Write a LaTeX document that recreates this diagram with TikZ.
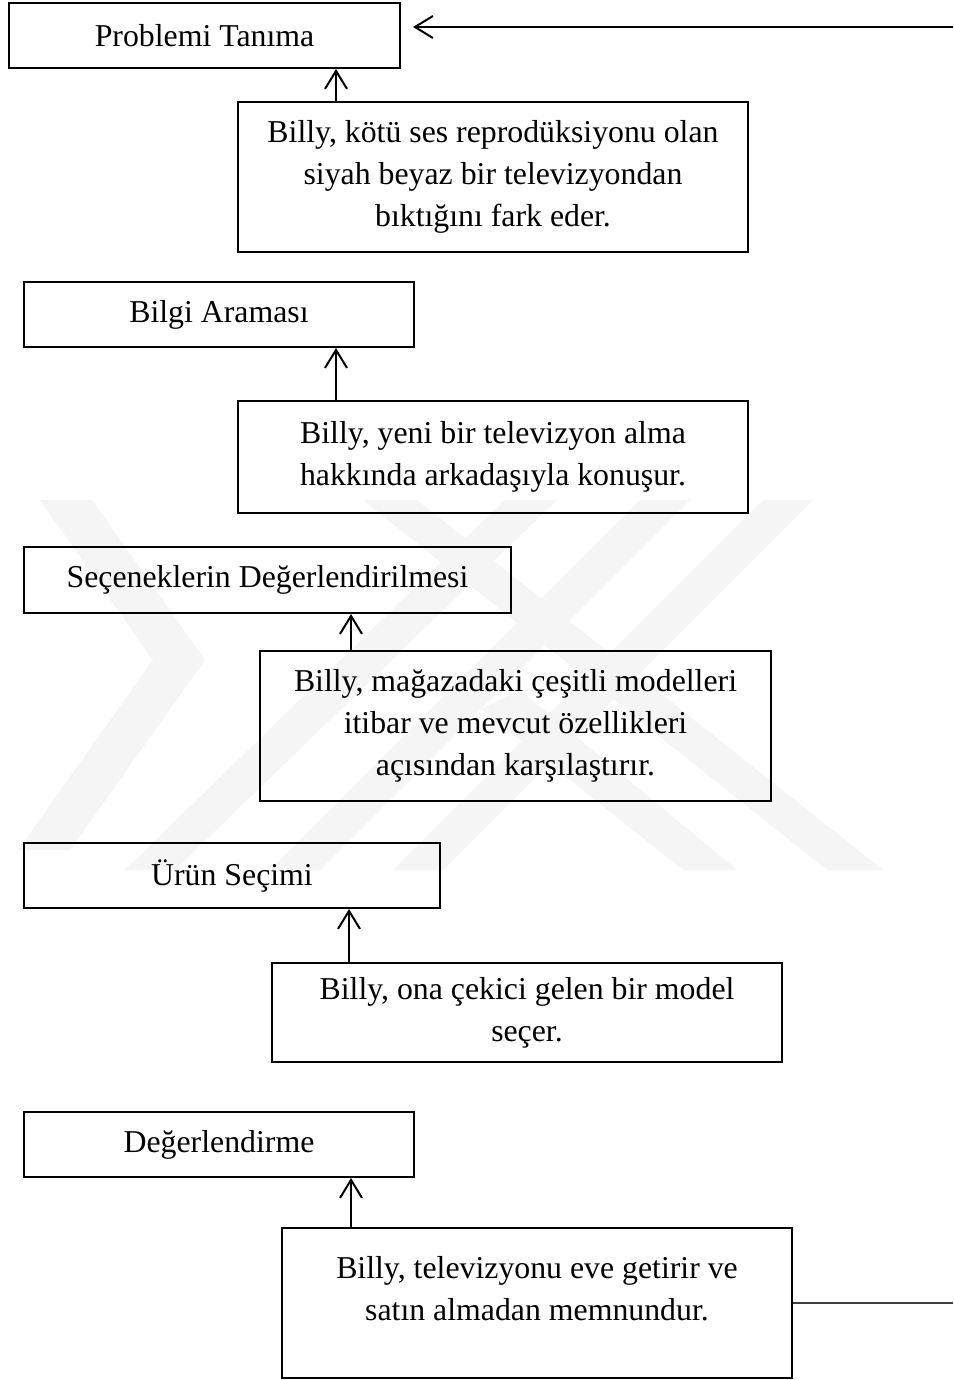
\documentclass[tikz,border=0pt]{standalone}
\usepackage{fontspec}
\setmainfont{Liberation Serif}
\usetikzlibrary{arrows.meta,calc}
\begin{document}
\begin{tikzpicture}[x=1pt,y=-1pt,
  txt/.style={font=\fontsize{31.8}{42}\selectfont, align=center},
  stage/.style={txt, draw, line width=2pt, inner sep=0pt, minimum height=65pt},
  note/.style={txt, draw, line width=2pt, inner sep=0pt, minimum width=510pt},
  arr/.style={line width=2pt, -{Straight Barb[length=18pt,width=22pt,line width=2pt]}},
  back/.style={line width=1.5pt, black!75},
  wm/.style={fill=black!4, draw=none}]
\useasboundingbox (0,0) rectangle (953,1380);

% faint background emblem
\fill[wm] (40,500) -- (92,500) -- (205,660) -- (70,850) -- (18,850) -- (153,660) -- cycle;
\fill[wm] (125,870) -- (175,870) -- (557,500) -- (505,500) -- cycle;
\fill[wm] (270,870) -- (320,870) -- (690,500) -- (640,500) -- cycle;
\fill[wm] (393,870) -- (443,870) -- (813,500) -- (763,500) -- cycle;
\fill[wm] (363,500) -- (417,500) -- (883,870) -- (827,870) -- cycle;
\fill[wm] (481,709) -- (520,690) -- (737,870) -- (683,870) -- cycle;

% stages
\node[stage, minimum width=391pt] (s1) at (204.5,35.5) {Problemi Tanıma};
\node[stage, minimum width=390pt] (s2) at (219,314.5) {Bilgi Araması};
\node[stage, minimum width=487pt, minimum height=66pt] (s3) at (267.5,580) {Seçeneklerin Değerlendirilmesi};
\node[stage, minimum width=416pt] (s4) at (232,875.5) {Ürün Seçimi};
\node[stage, minimum width=390pt] (s5) at (219,1144.5) {Değerlendirme};

% examples
\node[note, minimum height=150pt] (t1) at (493,177) {Billy, kötü ses reprodüksiyonu olan\\siyah beyaz bir televizyondan\\bıktığını fark eder.};
\node[note, minimum height=112pt] (t2) at (493,457) {Billy, yeni bir televizyon alma\\hakkında arkadaşıyla konuşur.};
\node[note, minimum width=511pt, minimum height=150pt] (t3) at (515.5,726) {Billy, mağazadaki çeşitli modelleri\\itibar ve mevcut özellikleri\\açısından karşılaştırır.};
\node[note, minimum height=99pt] (t4) at (527,1012.5) {Billy, ona çekici gelen bir model\\seçer.};
\node[note, minimum height=150pt] (t5) at (537,1303) {};
\node[txt] (t5text) at (537,1289) {Billy, televizyonu eve getirir ve\\satın almadan memnundur.};

% upward arrows
\coordinate (a1) at ($(t1.north west)+(99,0)$);
\coordinate (a2) at ($(t2.north west)+(99,0)$);
\coordinate (a3) at ($(t3.north west)+(92,0)$);
\coordinate (a4) at ($(t4.north west)+(78,0)$);
\coordinate (a5) at ($(t5.north west)+(70,0)$);
\draw[arr] (a1) -- (a1 |- s1.south);
\draw[arr] (a2) -- (a2 |- s2.south);
\draw[arr] (a3) -- (a3 |- s3.south);
\draw[arr] (a4) -- (a4 |- s4.south);
\draw[arr] (a5) -- (a5 |- s5.south);

% feedback loop
\coordinate (fbb) at (953,1303);
\coordinate (fbt) at (953,27);
\draw[back] (t5.east) -- (fbb);
\draw[arr, shorten >=12pt] (fbt) -- (fbt -| s1.east);
\end{tikzpicture}
\end{document}
